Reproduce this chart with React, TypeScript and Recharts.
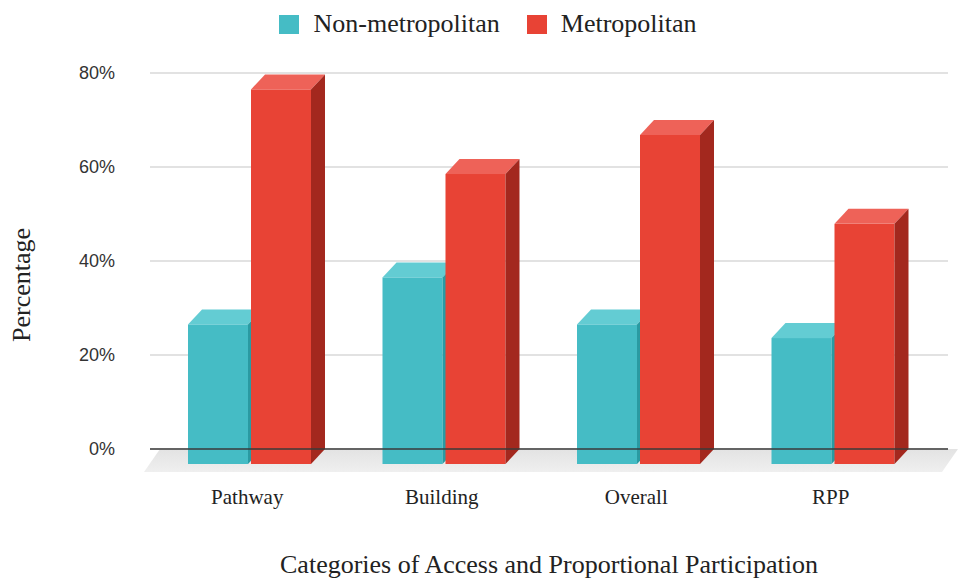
import { Bar, BarChart, CartesianGrid, Legend, ReferenceArea, XAxis, YAxis } from "recharts";

const categories = ["Pathway", "Building", "Overall", "RPP"];
const nonMetro = [29.7, 39.7, 29.7, 26.8];
const metro = [79.7, 61.7, 70, 51.1];
const yTicks = [0, 20, 40, 60, 80];
const seriesNames = ["Non-metropolitan", "Metropolitan"];

const data = categories.map((name, i) => ({ name, nonMetro: nonMetro[i], metro: metro[i] }));

const SERIF = "'Liberation Serif', 'Times New Roman', serif";
const TEAL = { front: "#45bcc5", top: "#63ccd3", side: "#2a9aa2" };
const RED = { front: "#e84335", top: "#ee6258", side: "#a3281e" };
// depth of the fake 3d bars
const DX = 14;
const DY = 15;

function Box3D(props: any) {
  const { x, y, width, height, colors } = props;
  if (width == null || height == null || height <= 0) return null;
  const fx = x - DX;
  const fy = y + DY;
  return (
    <g>
      <rect x={fx} y={fy} width={width} height={height} fill={colors.front} />
      <polygon
        points={`${fx},${fy} ${x},${y} ${x + width},${y} ${fx + width},${fy}`}
        fill={colors.top}
      />
      <polygon
        points={`${fx + width},${fy} ${x + width},${y} ${x + width},${y + height} ${fx + width},${fy + height}`}
        fill={colors.side}
      />
    </g>
  );
}

function Floor(props: any) {
  const { x, y, width } = props;
  return (
    <g>
      <defs>
        <linearGradient id="floorGrad" x1="0" y1="0" x2="0" y2="1">
          <stop offset="0%" stopColor="#e3e3e3" />
          <stop offset="100%" stopColor="#efefef" />
        </linearGradient>
      </defs>
      <polygon
        points={`${x - 6},${y} ${x + width + 14},${y} ${x + width - 2},${y + 23} ${x - 22},${y + 23}`}
        fill="url(#floorGrad)"
      />
    </g>
  );
}

function CategoryTick(props: any) {
  const { x, y, payload } = props;
  return (
    <text x={x - 16} y={y + 53} textAnchor="middle" fontFamily={SERIF} fontSize={21} fill="#222">
      {payload.value}
    </text>
  );
}

function LegendContent(props: any) {
  const items = [...(props.payload || [])].sort(
    (a: any, b: any) => seriesNames.indexOf(a.value) - seriesNames.indexOf(b.value)
  );
  return (
    <div
      style={{
        height: 40,
        display: "flex",
        justifyContent: "center",
        alignItems: "flex-start",
        paddingLeft: 43,
        boxSizing: "border-box",
      }}
    >
      {items.map((it: any) => (
        <div key={it.value} style={{ display: "flex", alignItems: "center", marginRight: 27, marginTop: 10 }}>
          <span style={{ width: 20, height: 19, background: it.color, display: "inline-block", marginRight: 14 }} />
          <span style={{ fontFamily: SERIF, fontSize: 26, color: "#222", lineHeight: "28px" }}>{it.value}</span>
        </div>
      ))}
    </div>
  );
}

export default function App() {
  return (
    <div style={{ position: "absolute", left: 0, top: 0, width: 960, height: 581, background: "#fff" }}>
      <BarChart
        width={960}
        height={581}
        data={data}
        margin={{ top: 33, right: 12, bottom: 0, left: 0 }}
        barSize={60}
        barGap={3}
      >
        <CartesianGrid vertical={false} stroke="#d8d8d8" strokeWidth={1.5} />
        <ReferenceArea y1={0} y2={0} ifOverflow="visible" shape={<Floor />} />
        <XAxis
          dataKey="name"
          padding={{ left: 16, right: 4 }}
          height={132}
          axisLine={{ stroke: "#3a3a3a", strokeWidth: 1.5 }}
          tickLine={false}
          tickSize={0}
          tick={<CategoryTick />}
          label={{
            value: "Categories of Access and Proportional Participation",
            content: (p: any) => (
              <text
                x={p.viewBox.x + p.viewBox.width / 2}
                y={p.viewBox.y + 124}
                textAnchor="middle"
                fontFamily={SERIF}
                fontSize={26}
                fill="#222"
              >
                Categories of Access and Proportional Participation
              </text>
            ),
          }}
        />
        <YAxis
          width={150}
          domain={[0, 80]}
          ticks={yTicks}
          tickFormatter={(v: number) => `${v}%`}
          axisLine={false}
          tickLine={false}
          tickSize={0}
          tickMargin={35}
          tick={{ fontFamily: "'Liberation Sans', Arial, sans-serif", fontSize: 18, fill: "#333" }}
          label={{
            value: "Percentage",
            content: (p: any) => {
              const cx = 30;
              const cy = p.viewBox.y + p.viewBox.height / 2 + 24;
              return (
                <text
                  x={cx}
                  y={cy}
                  transform={`rotate(-90 ${cx} ${cy})`}
                  textAnchor="middle"
                  fontFamily={SERIF}
                  fontSize={26}
                  fill="#222"
                >
                  Percentage
                </text>
              );
            },
          }}
        />
        <Legend verticalAlign="top" wrapperStyle={{ top: 0, left: 0, width: 960 }} content={<LegendContent />} />
        <Bar
          dataKey="nonMetro"
          name="Non-metropolitan"
          fill={TEAL.front}
          isAnimationActive={false}
          shape={(p: any) => <Box3D {...p} colors={TEAL} />}
        />
        <Bar
          dataKey="metro"
          name="Metropolitan"
          fill={RED.front}
          isAnimationActive={false}
          shape={(p: any) => <Box3D {...p} colors={RED} />}
        />
      </BarChart>
    </div>
  );
}
